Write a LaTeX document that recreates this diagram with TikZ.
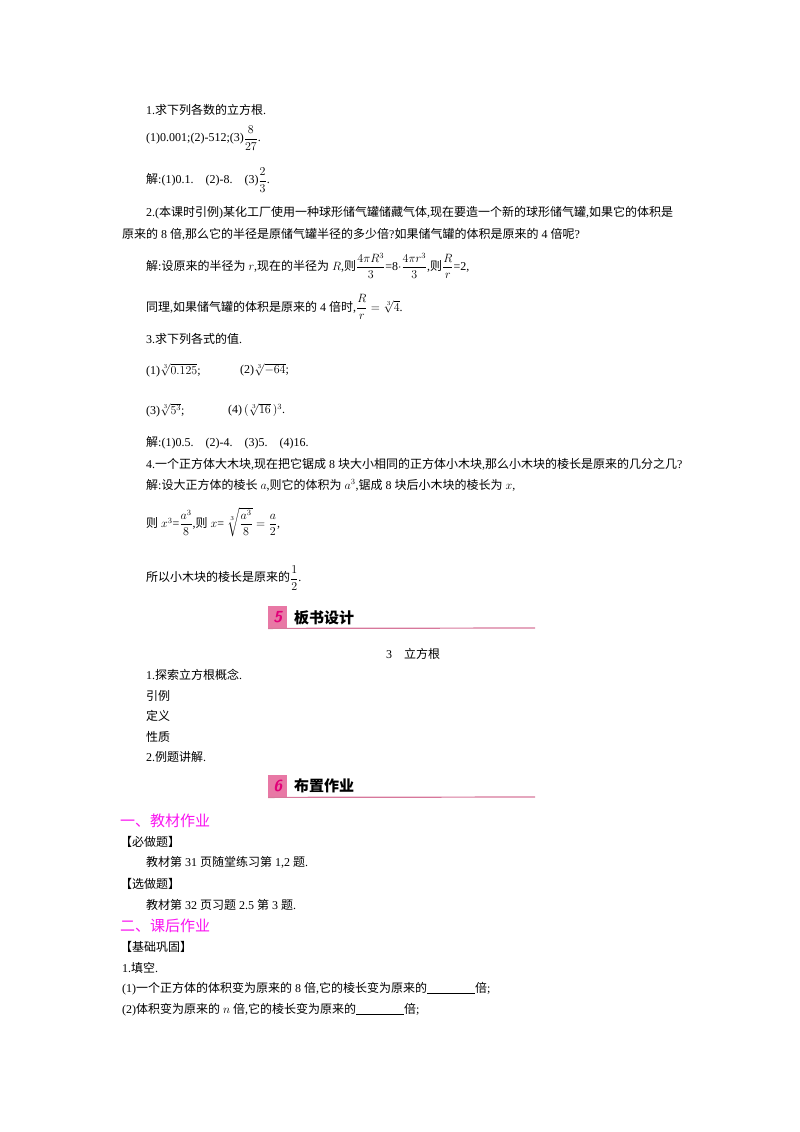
\documentclass[tikz,border=0pt]{standalone}
\usepackage{amsmath}
\usepackage{fontspec}
\setmainfont{Liberation Serif}
\newfontfamily\cjk{Noto Sans CJK SC}
\newcommand\zh[1]{{\cjk #1}}
\definecolor{hpink}{RGB}{232,120,165}
\definecolor{hline}{RGB}{215,120,155}
\definecolor{hmag}{RGB}{225,0,120}
\definecolor{tmag}{RGB}{250,20,240}
\begin{document}
\begin{tikzpicture}[x=1pt,y=-1pt,
  tx/.style={anchor=west,inner sep=0pt,font=\fontsize{12}{14}\selectfont},
  hd/.style={anchor=west,inner sep=0pt,font=\fontsize{15}{17}\selectfont\cjk\bfseries},
  mg/.style={anchor=west,inner sep=0pt,text=tmag,font=\fontsize{15}{17}\selectfont\cjk}]
\useasboundingbox (0,0) rectangle (800,1132);
\node[tx] (l1) at (146,110) {1.\zh{求下列各数的立方根}.};
\node[tx] (l2) at (146,138) {(1)0.001;(2)-512;(3)$\dfrac{8}{27}$.};
\node[tx] (l3) at (146,180) {\zh{解}:(1)0.1.\quad(2)-8.\quad(3)$\dfrac{2}{3}$.};
\node[tx] (l4) at (146,213) {2.(\zh{本课时引例})\zh{某化工厂使用一种球形储气罐储藏气体},\zh{现在要造一个新的球形储气罐},\zh{如果它的体积是}};
\node[tx] (l5) at (122,234) {\zh{原来的} 8 \zh{倍},\zh{那么它的半径是原储气罐半径的多少倍}?\zh{如果储气罐的体积是原来的} 4 \zh{倍呢}?};
\node[tx] (l6) at (146,266) {\zh{解}:\zh{设原来的半径为} $r$,\zh{现在的半径为} $R$,\zh{则}$\dfrac{4\pi R^3}{3}$=8$\cdot$$\dfrac{4\pi r^3}{3}$,\zh{则}$\dfrac{R}{r}$=2,};
\node[tx] (l7) at (146,307) {\zh{同理},\zh{如果储气罐的体积是原来的} 4 \zh{倍时},$\dfrac{R}{r}=\sqrt[3]{4}$.};
\node[tx] (l8) at (146,339) {3.\zh{求下列各式的值}.};
\node[tx] (l9) at (146,370) {(1)$\sqrt[3]{0.125}$;};
\node[tx] (l10) at (240,370) {(2)$\sqrt[3]{-64}$;};
\node[tx] (l11) at (146,410) {(3)$\sqrt[3]{5^3}$;};
\node[tx] (l12) at (228,410) {(4)\,$(\sqrt[3]{16}\,)^3$.};
\node[tx] (l13) at (146,443) {\zh{解}:(1)0.5.\quad(2)-4.\quad(3)5.\quad(4)16.};
\node[tx] (l14) at (146,464) {4.\zh{一个正方体大木块},\zh{现在把它锯成} 8 \zh{块大小相同的正方体小木块},\zh{那么小木块的棱长是原来的几分之几}?};
\node[tx] (l15) at (146,485) {\zh{解}:\zh{设大正方体的棱长} $a$,\zh{则它的体积为} $a^3$,\zh{锯成} 8 \zh{块后小木块的棱长为} $x$,};
\node[tx] (l16) at (146,522) {\zh{则} $x^3$=$\dfrac{a^3}{8}$,\zh{则} $x$= $\sqrt[3]{\dfrac{a^3}{8}}=\dfrac{a}{2}$,};
\node[tx] (l17) at (146,578) {\zh{所以小木块的棱长是原来的}$\dfrac{1}{2}$.};
% heading 5
\node[fill=hpink,minimum width=19pt,minimum height=22pt,inner sep=0pt,anchor=north west,text=hmag,font=\fontsize{16}{16}\selectfont\sffamily\bfseries\itshape] (b5) at (268,606) {5};
\draw[hline,line width=1.2pt] (b5.south west) -- (535,628) coordinate (e5);
\node[hd] (h5) at (294,618) {板书设计};
\node[tx] (c1) at (386,654) {3\quad\zh{立方根}};
\node[tx] (c2) at (146,675) {1.\zh{探索立方根概念}.};
\node[tx] (c3) at (146,696) {\zh{引例}};
\node[tx] (c4) at (146,716) {\zh{定义}};
\node[tx] (c5) at (146,737) {\zh{性质}};
\node[tx] (c6) at (146,757) {2.\zh{例题讲解}.};
% heading 6
\node[fill=hpink,minimum width=19pt,minimum height=22pt,inner sep=0pt,anchor=north west,text=hmag,font=\fontsize{16}{16}\selectfont\sffamily\bfseries\itshape] (b6) at (268,775) {6};
\draw[hline,line width=1.2pt] (b6.south west) -- (535,797) coordinate (e6);
\node[hd] (h6) at (294,786) {布置作业};
\node[mg] (m1) at (120,821) {一、教材作业};
\node[tx] (d1) at (120,842) {\zh{【必做题】}};
\node[tx] (d2) at (146,862) {\zh{教材第} 31 \zh{页随堂练习第} 1,2 \zh{题}.};
\node[tx] (d3) at (120,884) {\zh{【选做题】}};
\node[tx] (d4) at (146,905) {\zh{教材第} 32 \zh{页习题} 2.5 \zh{第} 3 \zh{题}.};
\node[mg] (m2) at (120,926) {二、课后作业};
\node[tx] (d5) at (120,947) {\zh{【基础巩固】}};
\node[tx] (d6) at (122,968) {1.\zh{填空}.};
\node[tx] (d7) at (122,989) {(1)\zh{一个正方体的体积变为原来的} 8 \zh{倍},\zh{它的棱长变为原来的}\rule[-1pt]{48pt}{0.6pt}\zh{倍};};
\node[tx] (d8) at (122,1010) {(2)\zh{体积变为原来的} $n$ \zh{倍},\zh{它的棱长变为原来的}\rule[-1pt]{48pt}{0.6pt}\zh{倍};};
\end{tikzpicture}
\end{document}
